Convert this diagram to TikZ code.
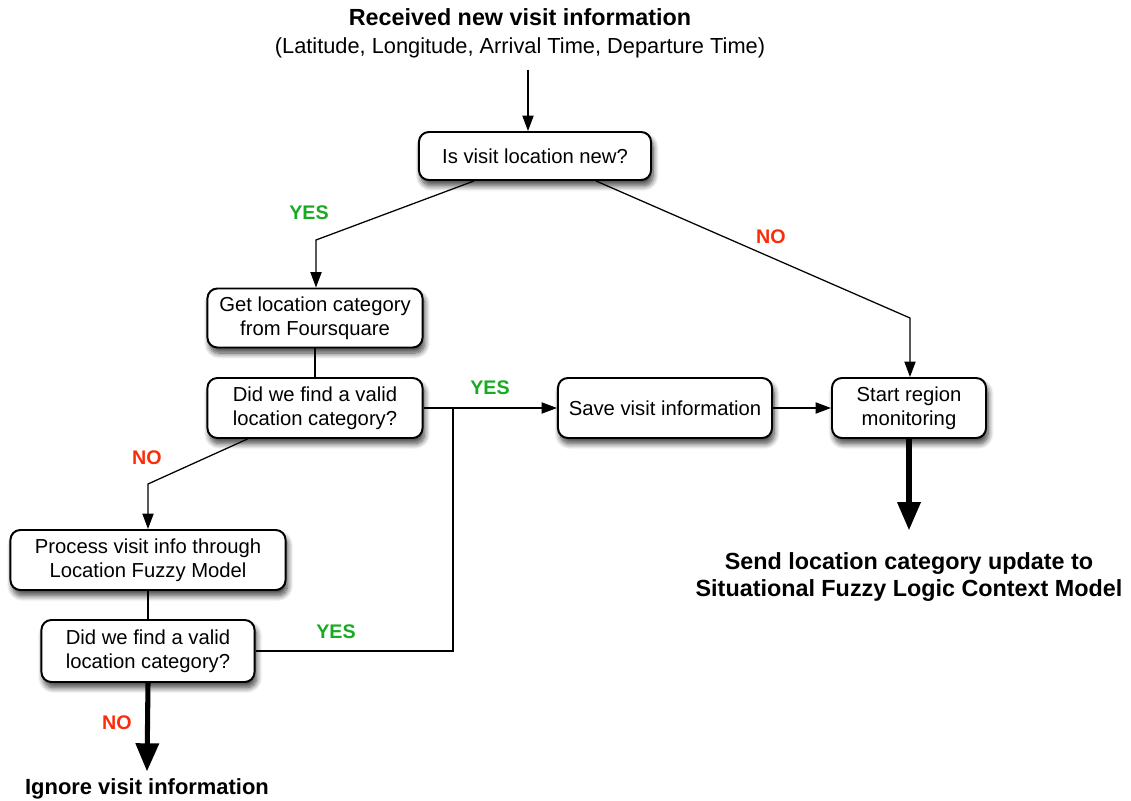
\documentclass[tikz,border=0pt]{standalone}
\usepackage{fontspec}
\setmainfont{Liberation Sans}
\usetikzlibrary{arrows.meta, calc, shadows.blur}

\definecolor{yesgreen}{RGB}{25,170,35}
\definecolor{nored}{RGB}{250,45,10}

\tikzset{
    rbox/.style={draw, line width=1.4pt, rounded corners=7pt, fill=white, align=center,
        font=\fontsize{14.4}{17}\selectfont, inner sep=0pt,
        blur shadow={shadow xshift=1.5pt, shadow yshift=-4pt, shadow blur steps=10, shadow blur radius=4pt, shadow opacity=75}},
    flow/.style={line width=0.9pt, -{Triangle[length=11pt, width=8pt]}},
    link/.style={line width=0.9pt},
    bigflow/.style={line width=3.6pt, -{Triangle[length=20pt, width=16pt]}},
    yes/.style={text=yesgreen, font=\fontsize{14}{16}\selectfont\bfseries},
    no/.style={text=nored, font=\fontsize{14}{16}\selectfont\bfseries},
    outtext/.style={align=center, font=\fontsize{16.6}{19.2}\selectfont\bfseries, inner sep=0pt}
}

\begin{document}
\begin{tikzpicture}[x=0.025cm, y=-0.025cm]
    \useasboundingbox (0, 0) rectangle (1131, 801);

    \node[align=center, font=\fontsize{15.5}{20}\selectfont, inner sep=0pt] (received) at (520, 33)
        {{\fontsize{16.6}{20}\selectfont\bfseries Received new visit information}\\(Latitude, Longitude, Arrival Time, Departure Time)};

    \node[rbox, minimum width=5.8cm, minimum height=1.2cm] (isnew) at (535, 156) {Is visit location new?};
    \node[rbox, minimum width=5.375cm, minimum height=1.475cm] (getcat) at (315, 318) {Get location category\\from Foursquare};
    \node[rbox, minimum width=5.375cm, minimum height=1.5cm] (valid1) at (315, 408) {Did we find a valid\\location category?};
    \node[rbox, minimum width=5.35cm, minimum height=1.5cm] (save) at (665, 408) {Save visit information};
    \node[rbox, minimum width=3.85cm, minimum height=1.5cm] (startmon) at (909, 408) {Start region\\monitoring};
    \node[rbox, minimum width=6.875cm, minimum height=1.5cm] (fuzzy) at (148, 560) {Process visit info through\\Location Fuzzy Model};
    \node[rbox, minimum width=5.325cm, minimum height=1.55cm] (valid2) at (148, 651) {Did we find a valid\\location category?};

    \node[outtext] (update) at (909, 577) {Send location category update to\\Situational Fuzzy Logic Context Model};
    \node[outtext, font=\fontsize{15.6}{19}\selectfont\bfseries] (ignore) at (147, 789) {Ignore visit information};

    \coordinate (intop) at (528, 70);
    \coordinate (yesturn) at (316, 240);
    \coordinate (noturn) at (910, 318);
    \coordinate (noturn2) at (148, 484);
    \coordinate (merge) at (453, 408);

    \draw[flow] (intop) -- (intop |- isnew.north);
    \draw[flow] ($(isnew.south west) + (56, 0)$) -- (yesturn) -- (yesturn |- getcat.north);
    \draw[flow] ($(isnew.south east) + (-56, 0)$) -- (noturn) -- (noturn |- startmon.north);
    \draw[link] (getcat) -- (valid1);
    \draw[flow] (valid1) -- (save);
    \draw[flow] (save) -- (startmon);
    \draw[link] (valid2.east) -| (merge);
    \draw[flow] ($(valid1.south west) + (41, 0)$) -- (noturn2) -- (fuzzy.north);
    \draw[link] (fuzzy) -- (valid2);
    \draw[bigflow] (startmon.south) -- ($(update.north) + (0, -22)$);
    \draw[bigflow] (valid2.south) -- ($(ignore.north) + (0, -7)$);

    \node[yes] at (309, 213) {YES};
    \node[no] at (771, 237) {NO};
    \node[yes] at (490, 388) {YES};
    \node[no] at (147, 458) {NO};
    \node[yes] at (336, 632) {YES};
    \node[no] at (117, 723) {NO};
\end{tikzpicture}
\end{document}
